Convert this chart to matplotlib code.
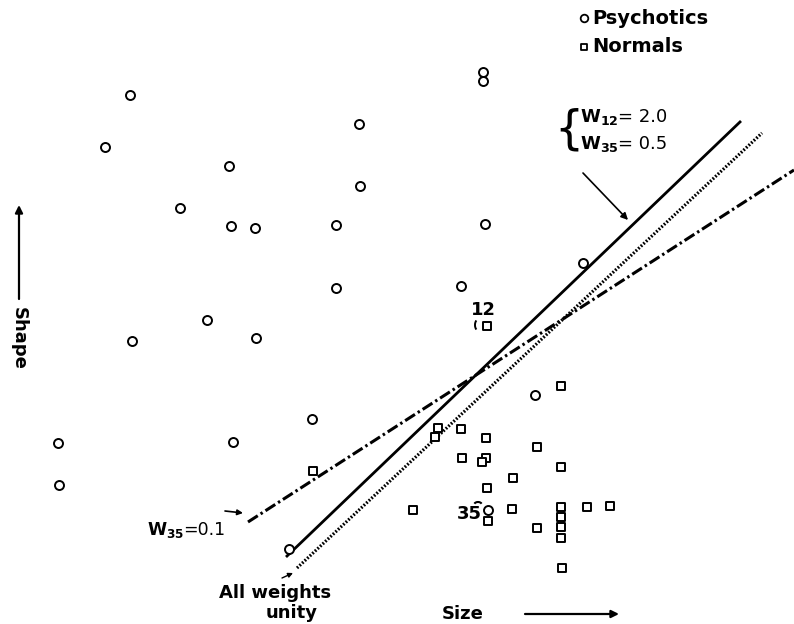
import numpy as np
import matplotlib
matplotlib.use("Agg")
import matplotlib.pyplot as plt
from matplotlib.patches import Arc

plt.rcParams['font.family'] = ['DejaVu Sans']
plt.rcParams['mathtext.fontset'] = 'dejavusans'

# positions (pixel units, y grows downward)
psychotic_x = [130, 105, 359, 229, 360, 180, 231, 255, 336, 336, 207, 132, 256,
               58, 233, 312, 59, 289, 483, 483, 485, 461, 583, 535, 488]
psychotic_y = [95, 147, 124, 166, 186, 208, 226, 228, 225, 288, 320, 341, 338,
               443, 442, 419, 485, 549, 72, 81, 224, 286, 263, 395, 510]

normal_x = [313, 487, 561, 438, 435, 461, 486, 537, 462, 486, 482, 561, 513, 487,
            413, 488, 512, 561, 561, 587, 610, 537, 561, 561, 562]
normal_y = [471, 326, 386, 428, 437, 429, 438, 447, 458, 458, 462, 467, 478, 488,
            510, 521, 509, 507, 517, 507, 506, 528, 527, 538, 568]

# decision boundaries (end points)
unity_x, unity_y = [297, 762], [568, 133]        # all weights unity
w12_x, w12_y = [286, 741], [557, 121]            # W12=2.0, W35=0.5
w35_x, w35_y = [248, 794], [522, 170]            # W35=0.1

W, H = 794, 624
fig = plt.figure(figsize=(W / 100, H / 100), dpi=100)
ax = fig.add_axes([0, 0, 1, 1])
ax.set_xlim(0, W)
ax.set_ylim(H, 0)
ax.axis('off')
renderer = fig.canvas.get_renderer()


def weight_label(x, y, sub, value, size):
    # bold W with bold subscript, then the plain "=value" right after it
    t = ax.text(x, y, r'$\mathbf{W}_{\mathbf{%s}}$' % sub, fontsize=size,
                va='center', ha='left')
    bb = t.get_window_extent(renderer)
    x_end = ax.transData.inverted().transform((bb.x1, bb.y0))[0]
    ax.text(x_end - 1, y, value, fontsize=size, va='center', ha='left')


ax.plot(w12_x, w12_y, color='black', lw=2.0, solid_capstyle='butt')
ax.plot(unity_x, unity_y, color='black', lw=2.3, linestyle=(0, (0.55, 0.55)))
ax.plot(w35_x, w35_y, color='black', lw=2.2, linestyle=(0, (3.8, 1.1, 0.8, 1.1)))

ax.scatter(psychotic_x, psychotic_y, s=42, marker='o', facecolors='white',
           edgecolors='black', linewidths=1.4, zorder=3)
ax.scatter(normal_x, normal_y, s=34, marker='s', facecolors='white',
           edgecolors='black', linewidths=1.4, zorder=3)

# legend
ax.scatter([584], [18], s=30, marker='o', facecolors='white', edgecolors='black',
           linewidths=1.3)
ax.scatter([584], [47], s=24, marker='s', facecolors='white', edgecolors='black',
           linewidths=1.3)
ax.text(592, 18, 'Psychotics', fontsize=14, fontweight='bold', va='center', ha='left')
ax.text(592, 47, 'Normals', fontsize=14, fontweight='bold', va='center', ha='left')

# weight annotation with brace
ax.text(569, 130, '{', fontsize=33, va='center', ha='center')
weight_label(580, 117, '12', '= 2.0', 13)
weight_label(580, 144, '35', '= 0.5', 13)
ax.annotate('', xy=(628, 220), xytext=(583, 173),
            arrowprops=dict(arrowstyle='-|>', color='black', lw=1.2,
                            mutation_scale=10, shrinkA=0, shrinkB=0))

# point labels
ax.text(483, 310, '12', fontsize=13, fontweight='bold', va='center', ha='center')
ax.add_patch(Arc((479, 325), 8, 12, theta1=120, theta2=240, color='black', lw=1.4))
ax.text(482, 514, '35', fontsize=13, fontweight='bold', va='center', ha='right')
ax.add_patch(Arc((478, 505), 8, 6, theta1=200, theta2=340, color='black', lw=1.5))

# W35=0.1
weight_label(147, 530, '35', '=0.1', 12.5)
ax.annotate('', xy=(243, 513), xytext=(225, 511),
            arrowprops=dict(arrowstyle='-|>', color='black', lw=1.2,
                            mutation_scale=8, shrinkA=0, shrinkB=0))

# all weights unity
ax.text(275, 593, 'All weights', fontsize=13, fontweight='bold', va='center', ha='center')
ax.text(292, 613, 'unity', fontsize=13, fontweight='bold', va='center', ha='center')
ax.annotate('', xy=(293, 573), xytext=(282, 578),
            arrowprops=dict(arrowstyle='-|>', color='black', lw=1.0,
                            mutation_scale=7, shrinkA=0, shrinkB=0))

# axis names
ax.text(463, 614, 'Size', fontsize=13, fontweight='bold', va='center', ha='center')
ax.annotate('', xy=(619, 614), xytext=(525, 614),
            arrowprops=dict(arrowstyle='-|>', color='black', lw=1.6,
                            mutation_scale=11, shrinkA=0, shrinkB=0))
ax.text(19, 338, 'Shape', fontsize=13, fontweight='bold', va='center', ha='center',
        rotation=-90)
ax.annotate('', xy=(19, 205), xytext=(19, 299),
            arrowprops=dict(arrowstyle='-|>', color='black', lw=1.6,
                            mutation_scale=11, shrinkA=0, shrinkB=0))

fig.savefig('out.png', dpi=100)
